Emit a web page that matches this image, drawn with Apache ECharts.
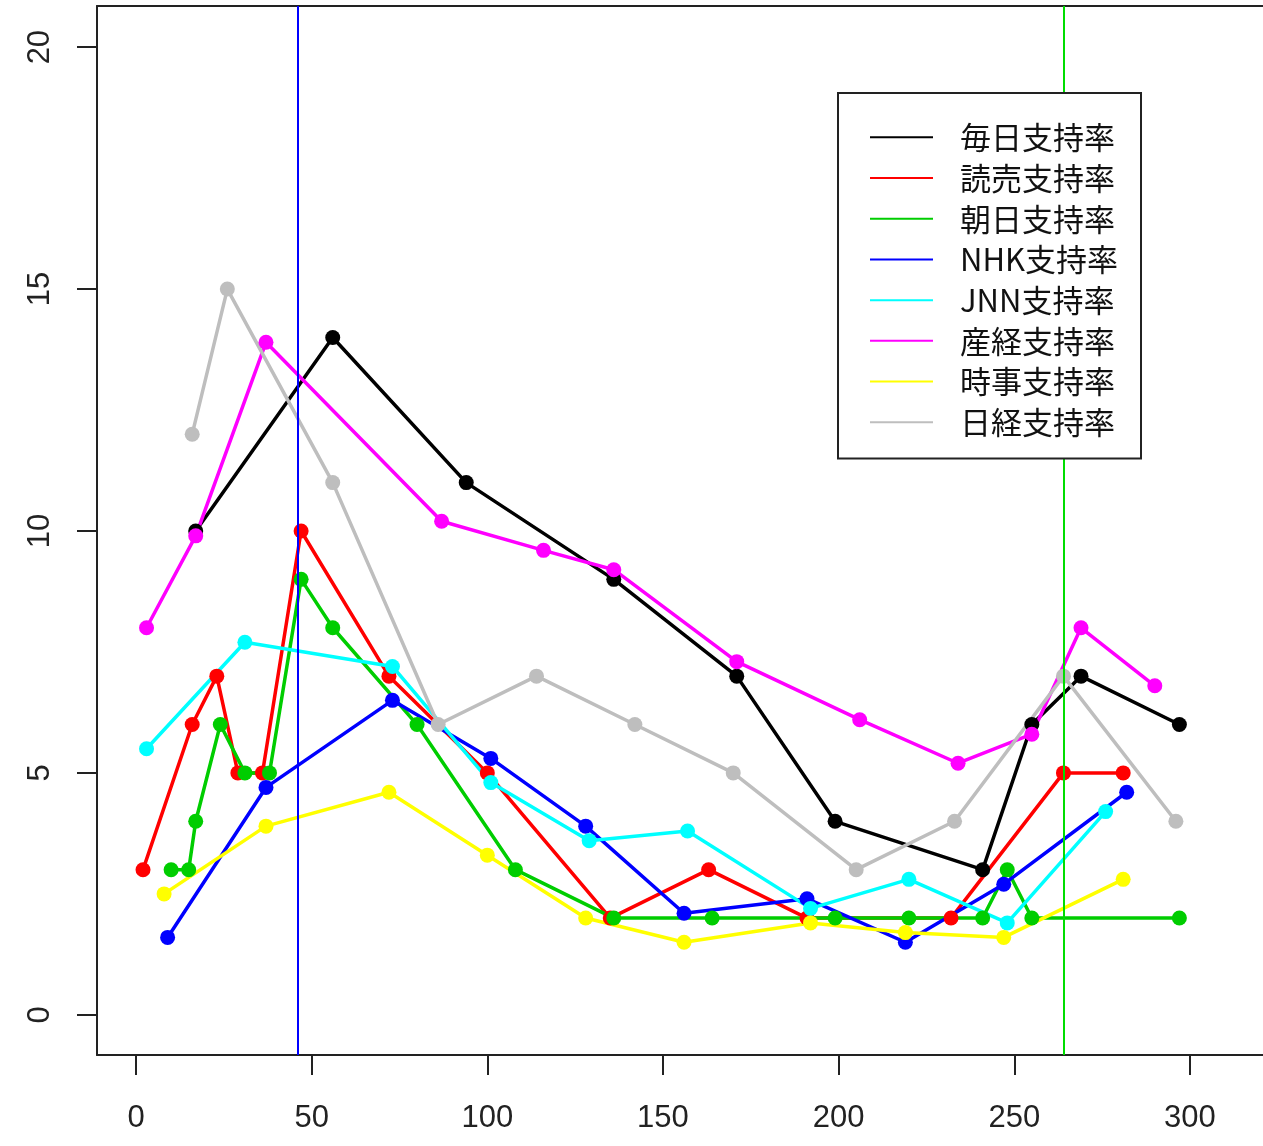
<!DOCTYPE html>
<html>
<head>
<meta charset="utf-8">
<script src="https://cdn.jsdelivr.net/npm/echarts@6/dist/echarts.min.js"></script>
<style>
  html, body { margin: 0; padding: 0; background: #fff; }
  #main { width: 1263px; height: 1146px; }
</style>
</head>
<body>
<div id="main"></div>
<script>
// x positions and support rates
const mainichiX = [17, 56, 94, 136, 171, 199, 241, 255, 269, 297];
const mainichiY = [10, 14, 11, 9, 7, 4, 3, 6, 7, 6];

const yomiuriX = [2, 16, 23, 29, 36, 47, 72, 100, 135, 163, 191, 232, 264, 281];
const yomiuriY = [3, 6, 7, 5, 5, 10, 7, 5, 2, 3, 2, 2, 5, 5];

const asahiX = [10, 15, 17, 24, 31, 38, 47, 56, 80, 108, 136, 164, 199, 220, 241, 248, 255, 297];
const asahiY = [3, 3, 4, 6, 5, 5, 9, 8, 6, 3, 2, 2, 2, 2, 2, 3, 2, 2];

const nhkX = [9, 37, 73, 101, 128, 156, 191, 219, 247, 282];
const nhkY = [1.6, 4.7, 6.5, 5.3, 3.9, 2.1, 2.4, 1.5, 2.7, 4.6];

const jnnX = [3, 31, 73, 101, 129, 157, 192, 220, 248, 276];
const jnnY = [5.5, 7.7, 7.2, 4.8, 3.6, 3.8, 2.2, 2.8, 1.9, 4.2];

const sankeiX = [3, 17, 37, 87, 116, 136, 171, 206, 234, 255, 269, 290];
const sankeiY = [8, 9.9, 13.9, 10.2, 9.6, 9.2, 7.3, 6.1, 5.2, 5.8, 8, 6.8];

const jijiX = [8, 37, 72, 100, 128, 156, 192, 219, 247, 281];
const jijiY = [2.5, 3.9, 4.6, 3.3, 2.0, 1.5, 1.9, 1.7, 1.6, 2.8];

const nikkeiX = [16, 26, 56, 86, 114, 142, 170, 205, 233, 264, 296];
const nikkeiY = [12, 15, 11, 6, 7, 6, 5, 3, 4, 7, 4];

const seriesNames = ["毎日支持率", "読売支持率", "朝日支持率", "NHK支持率", "JNN支持率", "産経支持率", "時事支持率", "日経支持率"];
const seriesColors = ["#000000", "#ff0000", "#00cd00", "#0000ff", "#00ffff", "#ff00ff", "#ffff00", "#bebebe"];
const seriesX = [mainichiX, yomiuriX, asahiX, nhkX, jnnX, sankeiX, jijiX, nikkeiX];
const seriesY = [mainichiY, yomiuriY, asahiY, nhkY, jnnY, sankeiY, jijiY, nikkeiY];

const xTicks = [0, 50, 100, 150, 200, 250, 300];
const yTicks = [0, 5, 10, 15, 20];

// vertical reference lines
const blueLineX = 46;
const greenLineX = 264;

const axisFont = { fontFamily: "Liberation Sans", fontSize: 31, color: "#222" };
const frame = { show: true, onZero: false, lineStyle: { color: "#222", width: 2 } };

const series = seriesNames.map((name, i) => ({
  name: name,
  type: "line",
  data: seriesX[i].map((x, j) => [x, seriesY[i][j]]),
  symbol: "circle",
  symbolSize: 15,
  showSymbol: true,
  lineStyle: { color: seriesColors[i], width: 3.5 },
  itemStyle: { color: seriesColors[i] },
  emphasis: { disabled: true },
}));

series[0].markLine = {
  silent: true,
  symbol: "none",
  label: { show: false },
  data: [
    { xAxis: blueLineX, lineStyle: { color: "#0000ff", width: 2, type: "solid" } },
    { xAxis: greenLineX, lineStyle: { color: "#00dd00", width: 2, type: "solid" } },
  ],
};

const chart = echarts.init(document.getElementById("main"));
chart.setOption({
  animation: false,
  backgroundColor: "#fff",
  grid: { left: 97, top: 6, right: 0, bottom: 91 },
  xAxis: [
    {
      type: "value",
      min: -11.1,
      max: 320.8,
      splitLine: { show: false },
      axisLine: frame,
      axisTick: {
        show: true,
        length: 20,
        customValues: xTicks,
        lineStyle: { color: "#222", width: 2 },
      },
      axisLabel: Object.assign({ margin: 48, customValues: xTicks }, axisFont),
    },
    {
      // top edge of the plot box
      type: "value",
      position: "top",
      min: -11.1,
      max: 320.8,
      splitLine: { show: false },
      axisLine: frame,
      axisTick: { show: false },
      axisLabel: { show: false },
    },
  ],
  yAxis: {
    type: "value",
    min: -0.83,
    max: 20.85,
    splitLine: { show: false },
    axisLine: frame,
    axisTick: {
      show: true,
      length: 20,
      customValues: yTicks,
      lineStyle: { color: "#222", width: 2 },
    },
    axisLabel: Object.assign({ margin: 41, rotate: 90, customValues: yTicks }, axisFont),
  },
  legend: {
    z: 20,
    orient: "vertical",
    left: 838,
    top: 93,
    icon: "rect",
    itemWidth: 63,
    itemHeight: 2,
    itemGap: 0,
    padding: [24, 23, 16, 32],
    borderColor: "#222",
    borderWidth: 2,
    borderRadius: 0,
    backgroundColor: "#fff",
    selectedMode: false,
    data: seriesNames,
    textStyle: {
      fontFamily: "Noto Sans CJK JP",
      fontSize: 31,
      lineHeight: 40.7,
      color: "#111",
      padding: [0, 0, 0, 22],
    },
  },
  series: series,
});
</script>
</body>
</html>
